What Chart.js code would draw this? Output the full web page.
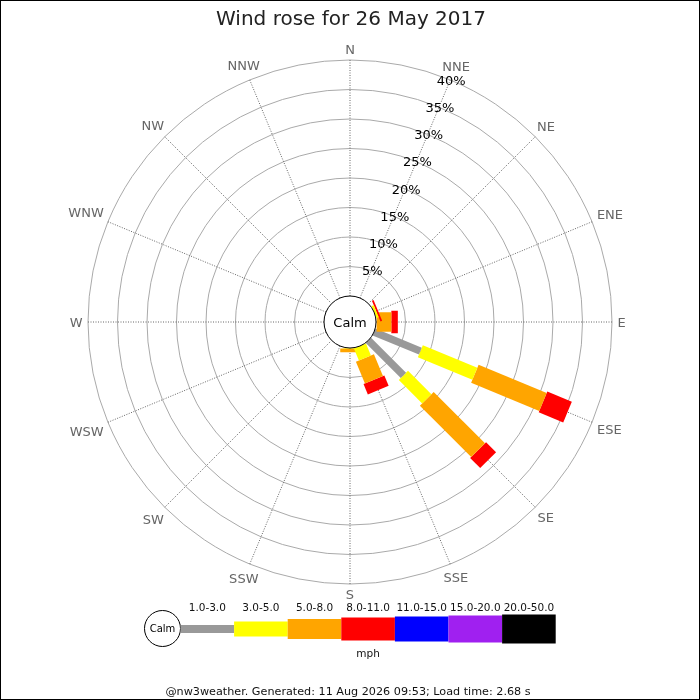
<!DOCTYPE html>
<html lang="en">
<head>
  <meta charset="UTF-8" />
  <title>Wind rose for 26 May 2017</title>
  <script src="https://cdn.jsdelivr.net/npm/chart.js"></script>
  <style>
    body { margin: 0; background: #fff; }
    canvas { display: block; }
  </style>
</head>
<body>
  <canvas id="rose" width="700" height="700"></canvas>

  <script>
    // compass points, clockwise from north
    const directions = ['N', 'NNE', 'NE', 'ENE', 'E', 'ESE', 'SE', 'SSE',
                        'S', 'SSW', 'SW', 'WSW', 'W', 'WNW', 'NW', 'NNW'];
    const speedBands = ['1.0-3.0', '3.0-5.0', '5.0-8.0', '8.0-11.0', '11.0-15.0', '15.0-20.0', '20.0-50.0'];
    const bandColors = ['#999999', '#ffff00', '#ffa500', '#ff0000', '#0000ff', '#a020f0', '#000000'];

    // % of time per direction, one array per speed band (same order as directions)
    const band1to3   = [0, 0, 0, 0,   0,   8.5,  8.4,  0,   0,   0, 0, 0, 0, 0, 0, 0];
    const band3to5   = [0, 0, 0, 0.4, 0.1, 10.0, 5.6,  2.2, 0.1, 0, 0, 0, 0, 0, 0, 0];
    const band5to8   = [0, 0, 0, 0,   2.5, 12.5, 12.3, 4.0, 0.6, 0, 0, 0, 0, 0, 0, 0];
    const band8to11  = [0, 0, 0, 0.3, 1.1, 4.5,  2.4,  1.9, 0,   0, 0, 0, 0, 0, 0, 0];
    const band11to15 = [0, 0, 0, 0,   0,   0,    0,    0,   0,   0, 0, 0, 0, 0, 0, 0];
    const band15to20 = [0, 0, 0, 0,   0,   0,    0,    0,   0,   0, 0, 0, 0, 0, 0, 0];
    const band20to50 = [0, 0, 0, 0,   0,   0,    0,    0,   0,   0, 0, 0, 0, 0, 0, 0];

    const percentTicks = [5, 10, 15, 20, 25, 30, 35, 40];

    const titleText = 'Wind rose for 26 May 2017';
    const footerText = '@nw3weather. Generated: 11 Aug 2026 09:53; Load time: 2.68 s';
    const calmText = 'Calm';
    const unitText = 'mph';

    // layout
    const W = 700, H = 700;
    const CX = 350, CY = 322;          // centre of the rose
    const PX = 5.9;                    // pixels per percent
    const CALM = 26 / PX;              // calm circle radius, in percent units
    const roseWidths = [7.5, 13, 19.5, 22.5, 24, 26, 28];
    const keyWidths = [8, 15, 20, 23, 25, 27, 29];
    const FONT = '"DejaVu Sans", sans-serif';

    const bands = [band1to3, band3to5, band5to8, band8to11, band11to15, band15to20, band20to50];

    // one thick line per segment, stacked outwards from the calm circle
    const datasets = [];
    directions.forEach((dir, d) => {
      const a = d * Math.PI / 8;
      let r = CALM;
      bands.forEach((vals, b) => {
        const v = vals[d];
        if (!v) return;
        datasets.push({
          label: speedBands[b] + ' ' + dir,
          data: [
            { x: r * Math.sin(a), y: r * Math.cos(a) },
            { x: (r + v) * Math.sin(a), y: (r + v) * Math.cos(a) }
          ],
          showLine: true,
          borderColor: bandColors[b],
          borderWidth: roseWidths[b],
          borderCapStyle: 'butt',
          pointRadius: 0,
          pointHoverRadius: 0,
          fill: false
        });
        r += v;
      });
    });

    const roseFrame = {
      id: 'roseFrame',
      beforeDatasetsDraw(chart) {
        const ctx = chart.ctx;
        const xs = chart.scales.x, ys = chart.scales.y;
        const ox = xs.getPixelForValue(0), oy = ys.getPixelForValue(0);
        const rad = p => xs.getPixelForValue(CALM + p) - ox;
        const maxTick = percentTicks[percentTicks.length - 1];

        ctx.save();
        ctx.fillStyle = '#fff';
        ctx.fillRect(0, 0, W, H);

        // rings
        ctx.strokeStyle = '#aaaaaa';
        ctx.lineWidth = 1;
        percentTicks.forEach(p => {
          ctx.beginPath();
          ctx.arc(ox, oy, rad(p), 0, Math.PI * 2);
          ctx.stroke();
        });

        // spokes
        ctx.strokeStyle = '#666';
        ctx.setLineDash([1, 1.5]);
        directions.forEach((dir, d) => {
          const a = d * Math.PI / 8;
          ctx.beginPath();
          ctx.moveTo(ox + rad(0) * Math.sin(a), oy - rad(0) * Math.cos(a));
          ctx.lineTo(ox + rad(maxTick) * Math.sin(a), oy - rad(maxTick) * Math.cos(a));
          ctx.stroke();
        });
        ctx.setLineDash([]);

        // compass labels
        ctx.font = '13px ' + FONT;
        ctx.fillStyle = '#666';
        ctx.textAlign = 'center';
        ctx.textBaseline = 'alphabetic';
        directions.forEach((dir, d) => {
          const a = d * Math.PI / 8;
          const w = ctx.measureText(dir).width;
          const e = Math.abs(Math.sin(a)) * w / 2 + Math.abs(Math.cos(a)) * 4.75;
          const r = rad(maxTick) + 5.5 + e;
          ctx.fillText(dir, ox + r * Math.sin(a), oy - r * Math.cos(a) + 4.7);
        });
        ctx.restore();
      },
      afterDatasetsDraw(chart) {
        const ctx = chart.ctx;
        const xs = chart.scales.x, ys = chart.scales.y;
        const ox = xs.getPixelForValue(0), oy = ys.getPixelForValue(0);
        const rad = p => xs.getPixelForValue(CALM + p) - ox;

        ctx.save();
        ctx.textAlign = 'center';
        ctx.textBaseline = 'alphabetic';

        // calm circle
        ctx.beginPath();
        ctx.arc(ox, oy, rad(0), 0, Math.PI * 2);
        ctx.fillStyle = '#fff';
        ctx.fill();
        ctx.strokeStyle = '#000';
        ctx.lineWidth = 1;
        ctx.stroke();
        ctx.fillStyle = '#000';
        ctx.font = '13px ' + FONT;
        ctx.fillText(calmText, ox, oy + 4.7);

        // percent labels along the NNE spoke
        const ta = Math.PI / 8;
        percentTicks.forEach(p => {
          ctx.fillText(p + '%', ox + rad(p) * Math.sin(ta) + 1, oy - rad(p) * Math.cos(ta) + 4.7);
        });

        // title
        ctx.font = '20px ' + FONT;
        ctx.fillStyle = '#222';
        ctx.fillText(titleText, 351, 25);

        // speed key
        const kx = 180.5, ky = 629, step = 53.6;
        ctx.beginPath();
        ctx.arc(kx - 18, ky - 0.5, 18, 0, Math.PI * 2);
        ctx.fillStyle = '#fff';
        ctx.fill();
        ctx.strokeStyle = '#000';
        ctx.stroke();
        ctx.fillStyle = '#000';
        ctx.font = '10px ' + FONT;
        ctx.fillText(calmText, kx - 18, ky + 3.2);

        ctx.font = '10.5px ' + FONT;
        speedBands.forEach((lab, b) => {
          const x0 = kx + b * step;
          ctx.fillStyle = bandColors[b];
          ctx.fillRect(x0, ky - keyWidths[b] / 2, step, keyWidths[b]);
          ctx.fillStyle = '#111';
          ctx.fillText(lab, x0 + step / 2, 611);
        });
        ctx.fillText(unitText, kx + step * speedBands.length / 2, 657);

        // footer
        ctx.font = '11.2px ' + FONT;
        ctx.fillStyle = '#111';
        ctx.fillText(footerText, 348, 695);

        // frame
        ctx.strokeStyle = '#000';
        ctx.lineWidth = 1;
        ctx.strokeRect(0.5, 0.5, W - 1, H - 1);
        ctx.restore();
      }
    };

    new Chart(document.getElementById('rose'), {
      type: 'scatter',
      data: { datasets: datasets },
      options: {
        responsive: false,
        animation: false,
        layout: { padding: 0 },
        plugins: {
          legend: { display: false },
          title: { display: false },
          tooltip: { enabled: false }
        },
        scales: {
          x: { type: 'linear', min: -CX / PX, max: (W - CX) / PX, display: false },
          y: { type: 'linear', min: -(H - CY) / PX, max: CY / PX, display: false }
        }
      },
      plugins: [roseFrame]
    });
  </script>
</body>
</html>
